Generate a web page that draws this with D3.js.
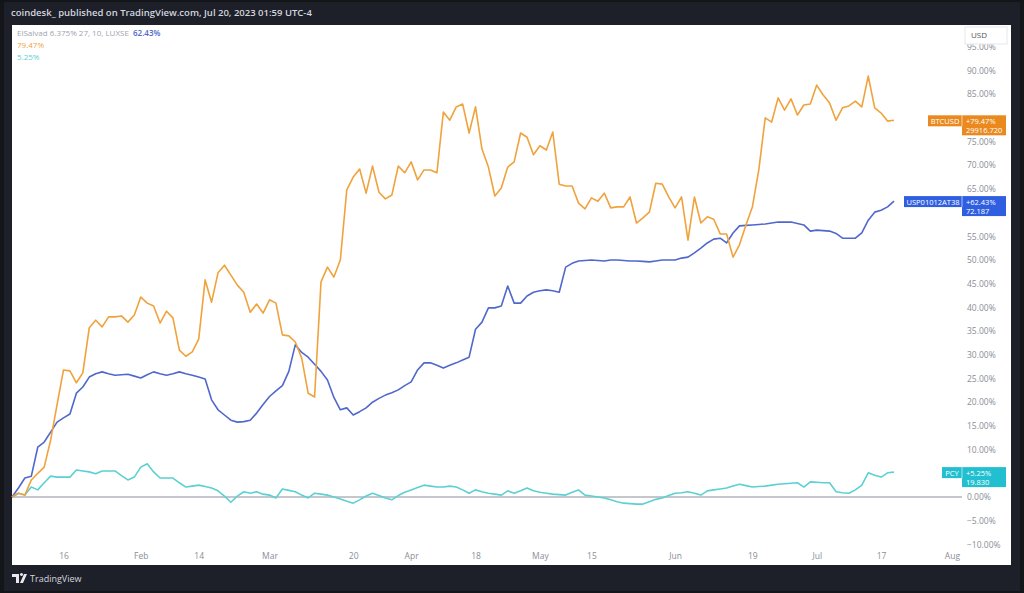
<!DOCTYPE html>
<html>
<head>
<meta charset="utf-8">
<script src="https://cdn.jsdelivr.net/npm/d3@7/dist/d3.min.js"></script>
<style>
  body { margin: 0; background: #141519; }
  svg { display: block; font-family: "Open Sans", Roboto, sans-serif; }
</style>
</head>
<body>
<svg id="chart" width="1024" height="593"></svg>
<script>
// values, one per trading day (% change from the first bar)
var btcPct = [0, 0.8, 0.4, 3.6, 5.0, 6.3, 12.0, 19.5, 26.8, 26.6,
  24.1, 26.2, 35.7, 37.3, 35.9, 38.0, 38.0, 38.2, 36.9, 38.4,
  42.2, 40.9, 40.3, 36.7, 39.2, 37.8, 31.0, 29.7, 30.6, 33.3,
  45.8, 41.1, 47.3, 48.9, 46.8, 44.7, 43.2, 39.0, 40.7, 38.8,
  41.6, 40.9, 34.2, 34.0, 32.7, 29.3, 21.9, 21.1, 45.4, 48.5,
  46.4, 50.0, 64.8, 67.5, 69.2, 64.1, 69.8, 64.3, 62.9, 63.7,
  69.8, 68.4, 70.7, 66.9, 69.0, 69.0, 68.4, 81.2, 79.5, 82.3,
  82.9, 76.8, 82.3, 73.4, 69.6, 63.5, 65.2, 69.6, 70.7, 76.8,
  75.9, 72.2, 74.1, 73.2, 77.0, 66.0, 65.6, 65.6, 62.0, 60.8,
  63.1, 62.4, 64.1, 61.0, 61.2, 61.2, 63.3, 57.8, 58.9, 60.1,
  66.2, 66.0, 63.3, 61.0, 63.3, 54.2, 63.3, 57.8, 59.1, 58.6,
  55.5, 55.5, 50.6, 53.2, 57.4, 61.2, 69.0, 80.0, 79.1, 84.2,
  81.6, 84.0, 80.6, 82.7, 82.9, 86.9, 84.8, 83.1, 79.5, 82.1,
  82.5, 83.5, 82.3, 88.8, 82.1, 81.0, 79.3, 79.47];

var uspPct = [0, 1.9, 4.0, 4.4, 10.5, 11.6, 13.7, 15.8, 16.7, 17.5,
  21.9, 23.2, 25.3, 26.0, 26.4, 26.0, 25.7, 25.8, 25.9, 25.5,
  25.1, 25.8, 26.4, 26.0, 25.7, 26.0, 26.4, 26.0, 25.7, 25.3,
  24.9, 20.5, 18.4, 17.3, 16.2, 15.8, 15.9, 16.2, 17.7, 19.5,
  21.2, 22.4, 23.5, 26.5, 32.1, 30.5, 29.5, 28.0, 26.5, 24.7,
  21.0, 18.4, 18.8, 17.3, 18.0, 18.8, 20.0, 20.8, 21.5, 22.0,
  22.6, 23.5, 24.3, 26.8, 28.3, 28.3, 27.8, 27.2, 27.8, 28.3,
  28.9, 29.5, 35.4, 36.9, 39.9, 39.9, 40.3, 44.5, 40.9, 40.9,
  42.4, 43.2, 43.5, 43.7, 43.5, 43.2, 48.5, 49.3, 49.8, 49.9,
  50.0, 49.9, 49.8, 50.0, 50.0, 49.9, 49.8, 49.8, 49.7, 49.6,
  49.8, 50.0, 50.0, 50.0, 50.4, 50.6, 51.5, 52.5, 53.6, 54.4,
  54.6, 53.6, 55.7, 57.2, 57.3, 57.4, 57.5, 57.6, 57.8, 58.0,
  58.0, 58.0, 57.7, 57.4, 56.1, 56.3, 56.2, 56.1, 55.6, 54.6,
  54.6, 54.6, 55.7, 58.4, 60.1, 60.5, 61.2, 62.43];

var pcyPct = [0, 0.8, 0.4, 2.1, 1.5, 3.0, 4.4, 4.2, 4.2, 4.2,
  5.7, 5.5, 5.3, 4.9, 5.5, 5.5, 5.5, 4.5, 3.6, 4.2,
  6.3, 7.0, 5.3, 4.0, 4.0, 4.0, 3.0, 2.1, 2.3, 2.5,
  2.2, 1.9, 1.3, 0.2, -1.1, 0.2, 1.1, 0.8, 1.1, 0.6,
  0.4, -0.2, 1.7, 1.4, 1.1, 0.4, -0.2, 0.8, 0.6, 0.4,
  0.0, -0.4, -0.9, -1.3, -0.6, 0.2, 0.8, 0.3, -0.2, -0.6,
  0.3, 1.0, 1.5, 2.0, 2.5, 2.3, 2.1, 2.1, 2.3, 2.1,
  1.5, 0.8, 1.5, 1.1, 0.8, 0.6, 0.4, 1.3, 0.8, 1.3,
  1.9, 1.3, 1.0, 0.8, 0.6, 0.5, 0.4, 1.0, 1.5, 0.4,
  0.2, 0.0, -0.2, -0.6, -1.0, -1.3, -1.4, -1.5, -1.5, -1.0,
  -0.5, -0.2, 0.3, 0.8, 0.9, 1.1, 0.8, 0.4, 1.3, 1.5,
  1.7, 1.9, 2.3, 2.7, 2.4, 2.1, 2.2, 2.3, 2.5, 2.7,
  2.8, 2.9, 3.0, 2.1, 3.2, 3.1, 3.0, 3.0, 1.1, 0.9,
  0.8, 1.5, 2.5, 5.1, 4.6, 4.2, 5.1, 5.25];

// x axis: trading-day index of each label
var xTickDays = [8, 20, 29, 40, 53, 62, 72, 82, 90, 103, 115, 125, 135, 146];
var xTickLabels = ["16", "Feb", "14", "Mar", "20", "Apr", "18", "May", "15", "Jun", "19", "Jul", "17", "Aug"];
var yTicks = d3.range(-10, 96, 5);

var colors = {btc: "#f0a23c", usp: "#5068cc", pcy: "#5cd0d2"};

var svg = d3.select("#chart");

// frame
svg.append("rect").attr("x", 4).attr("y", 2).attr("width", 1016).attr("height", 589).attr("fill", "#1e2029");
svg.append("text").attr("x", 11).attr("y", 16)
  .attr("fill", "#d4d6de").attr("font-size", 9.5).attr("font-weight", 600)
  .text("coindesk_ published on TradingView.com, Jul 20, 2023 01:59 UTC-4");
svg.append("rect").attr("x", 12).attr("y", 25).attr("width", 999).attr("height", 540).attr("fill", "#ffffff");

// scales
var x = d3.scaleLinear().domain([0, 137]).range([12, 894]);
var y = d3.scaleLinear().domain([-10, 90]).range([544.4, 70.4]);

// last values get a tag on the price scale; scale labels under a tag are hidden
var lastVals = [btcPct[btcPct.length - 1], uspPct[uspPct.length - 1], pcyPct[pcyPct.length - 1]];
var shownTicks = yTicks.filter(function(t){
  return lastVals.every(function(v){ var d = y(t) - y(v); return d < -9 || d > 19; });
});

// price axis labels
var yAxis = d3.axisRight(y).tickValues(shownTicks).tickSize(0).tickPadding(0)
  .tickFormat(function(d){ return d3.format(".2f")(d).replace("-", "\u2212") + "%"; });
var ya = svg.append("g").attr("transform", "translate(967,0)").call(yAxis);
ya.select(".domain").remove();
ya.selectAll("text").attr("fill", "#8a8e99").attr("font-size", 8.5)
  .attr("font-family", "'Open Sans', Roboto, sans-serif");

// time axis labels
var xAxis = d3.axisBottom(x).tickValues(xTickDays).tickSize(0).tickPadding(0)
  .tickFormat(function(d, i){ return xTickLabels[i]; });
var xa = svg.append("g").attr("transform", "translate(0,553)").call(xAxis);
xa.select(".domain").remove();
xa.selectAll("text").attr("fill", "#8a8e99").attr("font-size", 8.5)
  .attr("font-family", "'Open Sans', Roboto, sans-serif");

// zero line
svg.append("line").attr("x1", 12).attr("x2", 962).attr("y1", y(0)).attr("y2", y(0))
  .attr("stroke", "#8a8e99").attr("stroke-width", 1);

var line = d3.line().x(function(d, i){ return x(i); }).y(function(d){ return y(d); });

[[pcyPct, colors.pcy], [uspPct, colors.usp], [btcPct, colors.btc]].forEach(function(s){
  svg.append("path").datum(s[0]).attr("d", line)
    .attr("fill", "none").attr("stroke", s[1]).attr("stroke-width", 1.6)
    .attr("stroke-linejoin", "round");
});

// price tags on the right scale
function tag(name, pct, price, color, nameW) {
  var yy = y(pct) - 5;
  svg.append("rect").attr("x", 962 - nameW).attr("y", yy).attr("width", nameW).attr("height", 11).attr("fill", color);
  svg.append("text").attr("x", 962 - nameW / 2).attr("y", yy + 8.5).attr("text-anchor", "middle")
    .attr("fill", "#fff").attr("font-size", 7.5).text(name);
  svg.append("rect").attr("x", 962).attr("y", yy).attr("width", 44).attr("height", 20).attr("fill", color);
  svg.append("line").attr("x1", 962).attr("x2", 962).attr("y1", yy).attr("y2", yy + 11).attr("stroke", "#ffffff").attr("stroke-opacity", 0.6);
  svg.append("text").attr("x", 966).attr("y", yy + 8.5).attr("fill", "#fff").attr("font-size", 7.5)
    .text((pct >= 0 ? "+" : "") + d3.format(".2f")(pct) + "%");
  svg.append("text").attr("x", 966).attr("y", yy + 17.5).attr("fill", "#fff").attr("font-size", 7.5).text(price);
}
tag("BTCUSD", lastVals[0], "29916.720", "#ea8a1e", 34);
tag("USP01012AT38", lastVals[1], "72.187", "#2f5fe0", 58);
tag("PCY", lastVals[2], "19.830", "#22bfd0", 20);

// USD box (sits over the top of the 95% label, as in the picture)
svg.append("rect").attr("x", 965).attr("y", 27).attr("width", 42).attr("height", 17)
  .attr("fill", "#fff").attr("stroke", "#e6e7ea");
svg.append("text").attr("x", 971).attr("y", 38).attr("fill", "#555").attr("font-size", 8).text("USD");

// legend
var lg = svg.append("g").attr("font-size", 8);
lg.append("text").attr("x", 17).attr("y", 36).attr("fill", "#a0a4ae").text("ElSalvad 6.375% 27, 10, LUXSE");
lg.append("text").attr("x", 133).attr("y", 36).attr("fill", colors.usp).attr("font-weight", 600)
  .text(d3.format(".2f")(lastVals[1]) + "%");
lg.append("text").attr("x", 17).attr("y", 48).attr("fill", colors.btc)
  .text(d3.format(".2f")(lastVals[0]) + "%");
lg.append("text").attr("x", 17).attr("y", 60).attr("fill", colors.pcy)
  .text(d3.format(".2f")(lastVals[2]) + "%");

// footer logo
var ft = svg.append("g").attr("transform", "translate(12,573)");
ft.append("path").attr("d", "M0,1 h7 v9 h-3 v-6 h-4 z M8,10 l4,-9 h3 l-4,9 z M9.5,3 a1.5,1.5 0 1,1 0.01,0 z").attr("fill", "#e8e9ee");
ft.append("text").attr("x", 18).attr("y", 9).attr("fill", "#d4d6de").attr("font-size", 9).text("TradingView");
</script>
</body>
</html>
